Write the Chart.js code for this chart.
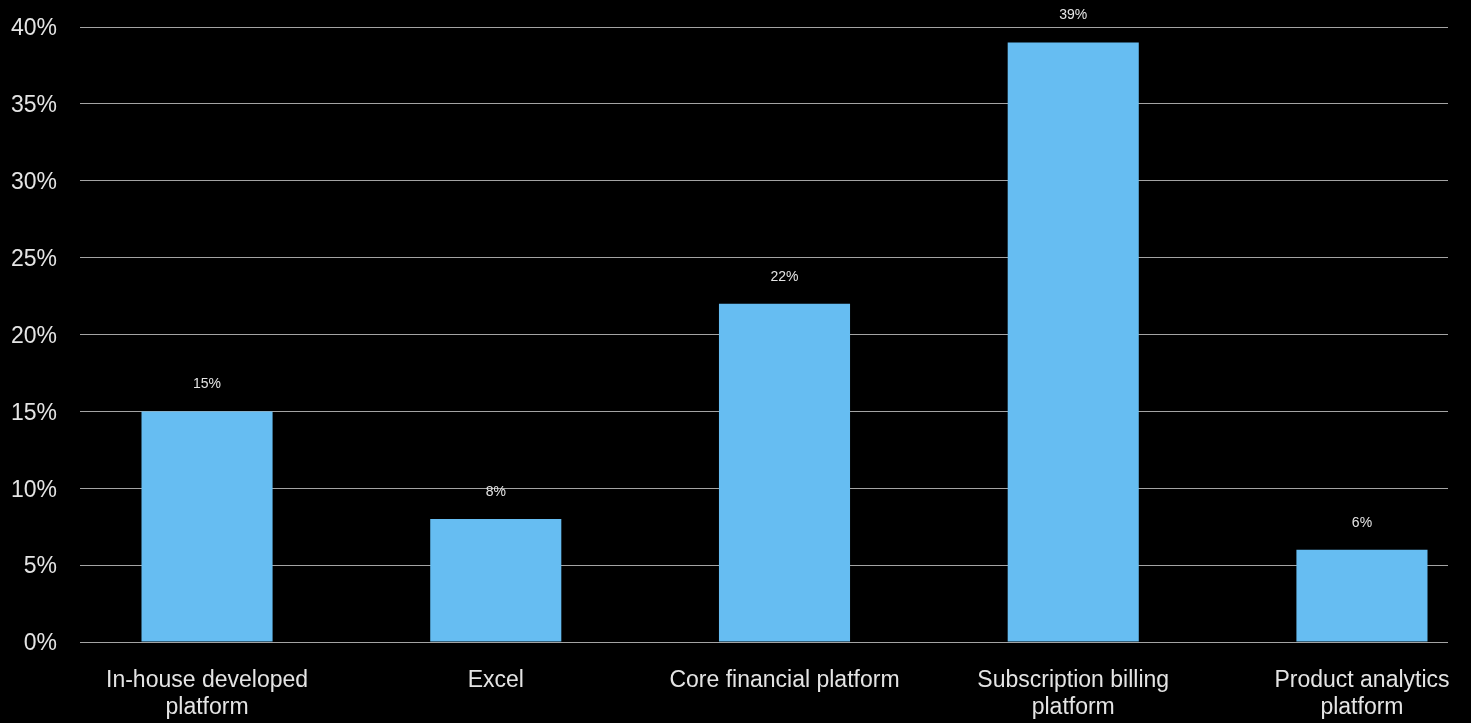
<!DOCTYPE html>
<html>
<head>
<meta charset="utf-8">
<script src="https://cdn.jsdelivr.net/npm/chart.js@4"></script>
<style>
  html, body { margin: 0; padding: 0; background: #000; }
  #wrap { width: 1471px; height: 723px; }
</style>
</head>
<body>
<div id="wrap"><canvas id="chart"></canvas></div>
<script>
const categories = [
  ['In-house developed', 'platform'],
  'Excel',
  'Core financial platform',
  ['Subscription billing', 'platform'],
  ['Product analytics', 'platform'],
];
const shares = [15, 8, 22, 39, 6];
const yTicks = [0, 5, 10, 15, 20, 25, 30, 35, 40];

const FONT = '"Liberation Sans", Arial, sans-serif';
const TEXT = '#e4e4e4';
const BAR = '#66bdf2';

// percentage printed above each bar
const valueLabels = {
  id: 'valueLabels',
  afterDatasetsDraw(chart) {
    const ctx = chart.ctx;
    const meta = chart.getDatasetMeta(0);
    ctx.save();
    ctx.font = '14px ' + FONT;
    ctx.fillStyle = TEXT;
    ctx.textAlign = 'center';
    ctx.textBaseline = 'middle';
    meta.data.forEach((bar, i) => {
      ctx.fillText(shares[i] + '%', bar.x, bar.y - 27);
    });
    ctx.restore();
  }
};

new Chart(document.getElementById('chart'), {
  type: 'bar',
  data: {
    datasets: [{
      data: shares.map((v, i) => ({ x: i, y: v })),
      backgroundColor: BAR,
      borderWidth: 0,
      categoryPercentage: 1,
      barPercentage: 0.454,
    }]
  },
  options: {
    responsive: true,
    maintainAspectRatio: false,
    animation: false,
    layout: { padding: { top: 27, right: 23, left: 0, bottom: 0 } },
    plugins: {
      legend: { display: false },
      tooltip: { enabled: false },
    },
    scales: {
      x: {
        type: 'linear',
        offset: false,
        // bars sit a little right of centre in the plot
        min: -0.44,
        max: 4.298,
        afterBuildTicks(axis) {
          axis.ticks = categories.map((c, i) => ({ value: i }));
        },
        afterFit(axis) {
          axis.height = 81;
          axis.paddingLeft = 0;
          axis.paddingRight = 0;
        },
        grid: { display: false },
        border: { display: false },
        ticks: {
          color: TEXT,
          font: { family: FONT, size: 23, lineHeight: 1.17 },
          padding: 17,
          maxRotation: 0,
          autoSkip: false,
          callback: v => categories[v],
        },
      },
      y: {
        min: 0,
        max: 40,
        afterBuildTicks(axis) {
          axis.ticks = yTicks.map(v => ({ value: v }));
        },
        afterFit(axis) {
          axis.width = 80;
          axis.paddingTop = 0;
          axis.paddingBottom = 0;
        },
        grid: { color: '#a4a4a4', lineWidth: 1, drawTicks: false },
        border: { display: false },
        ticks: {
          color: TEXT,
          font: { family: FONT, size: 23 },
          padding: 23,
          labelOffset: 2,
          callback: v => v + '%',
        },
      },
    },
  },
  plugins: [valueLabels],
});
</script>
</body>
</html>
